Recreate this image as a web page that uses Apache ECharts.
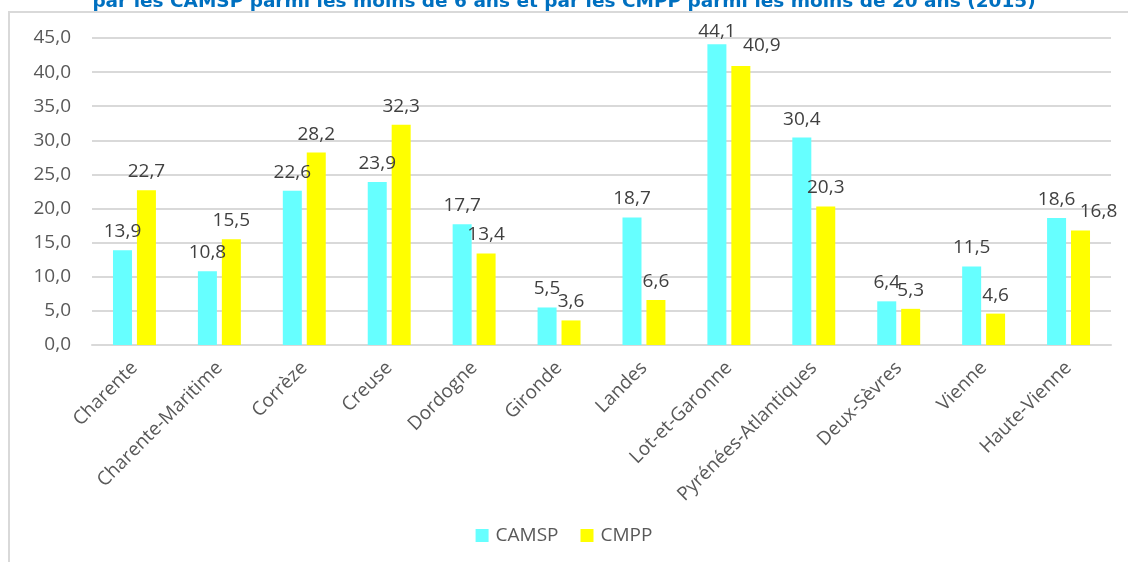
<!DOCTYPE html>
<html><head><meta charset="utf-8">
<script src="https://cdn.jsdelivr.net/npm/echarts@6/dist/echarts.min.js"></script>
<style>html,body{margin:0;padding:0;background:#fff;overflow:hidden}#c{width:1128px;height:562px}
#frame{position:absolute;left:8px;top:11px;width:1130px;height:560px;border-left:2px solid #d9d9d9;border-top:2px solid #d9d9d9;pointer-events:none}</style>
</head><body><div id="c"></div><div id="frame"></div>
<script>
const categories = ["Charente","Charente-Maritime","Corrèze","Creuse","Dordogne","Gironde","Landes","Lot-et-Garonne","Pyrénées-Atlantiques","Deux-Sèvres","Vienne","Haute-Vienne"];
const camsp = [13.9,10.8,22.6,23.9,17.7,5.5,18.7,44.1,30.4,6.4,11.5,18.6];
const cmpp = [22.7,15.5,28.2,32.3,13.4,3.6,6.6,40.9,20.3,5.3,4.6,16.8];
const seriesNames = ["CAMSP","CMPP"];
const titleText = "par les CAMSP parmi les moins de 6 ans et par les CMPP parmi les moins de 20 ans (2015)";
const yMin = 0, yMax = 45, yStep = 5;

// label placement tweaks (layout only), keyed by category index
const cmppLabelShift = {7:[21,-2], 11:[18,0]};
const camspLabelShift = {7:[0,6]};

const fmt = v => Number(v).toFixed(1).replace('.', ',');
const font = '"Open Sans", sans-serif';
const withShift = (arr, shift) => arr.map((v, i) => shift[i] ? {value:v, label:{offset:shift[i]}} : v);
const labelCfg = {show:true, position:'top', distance:9, formatter:p=>fmt(p.value), color:'#404040', fontSize:19, fontFamily:font};
const chart = echarts.init(document.getElementById('c'), null, {renderer:'canvas'});
chart.setOption({
  animation:false,
  textStyle:{fontFamily:font},
  title:{text:titleText, left:'center', top:-12, textStyle:{color:'#0070C0', fontSize:18.5, fontWeight:'bold', fontFamily:'"DejaVu Sans", sans-serif'}},
  legend:{bottom:12, left:'center', itemWidth:13, itemHeight:13, itemGap:22, icon:'rect',
    textStyle:{color:'#595959', fontSize:19, fontFamily:font, padding:[0,0,0,2]}, data:seriesNames},
  grid:{left:92, right:17, top:38, bottom:217, containLabel:false},
  xAxis:{type:'category', data:categories,
    axisLine:{lineStyle:{color:'#d9d9d9', width:2}}, axisTick:{show:false},
    axisLabel:{rotate:45, color:'#595959', fontSize:19, margin:20, interval:0, fontFamily:font}},
  yAxis:{type:'value', min:yMin, max:yMax, interval:yStep,
    axisLine:{show:false}, axisTick:{show:false},
    splitLine:{lineStyle:{color:'#d9d9d9', width:2}},
    axisLabel:{formatter:fmt, color:'#595959', fontSize:19, margin:21, fontFamily:font}},
  series:[
    {name:seriesNames[0], type:'bar', data:withShift(camsp, camspLabelShift), barWidth:19, barGap:'26%', itemStyle:{color:'#66FFFF'}, label:labelCfg},
    {name:seriesNames[1], type:'bar', data:withShift(cmpp, cmppLabelShift), barWidth:19, itemStyle:{color:'#FFFF00'}, label:labelCfg}
  ]
});
</script></body></html>
